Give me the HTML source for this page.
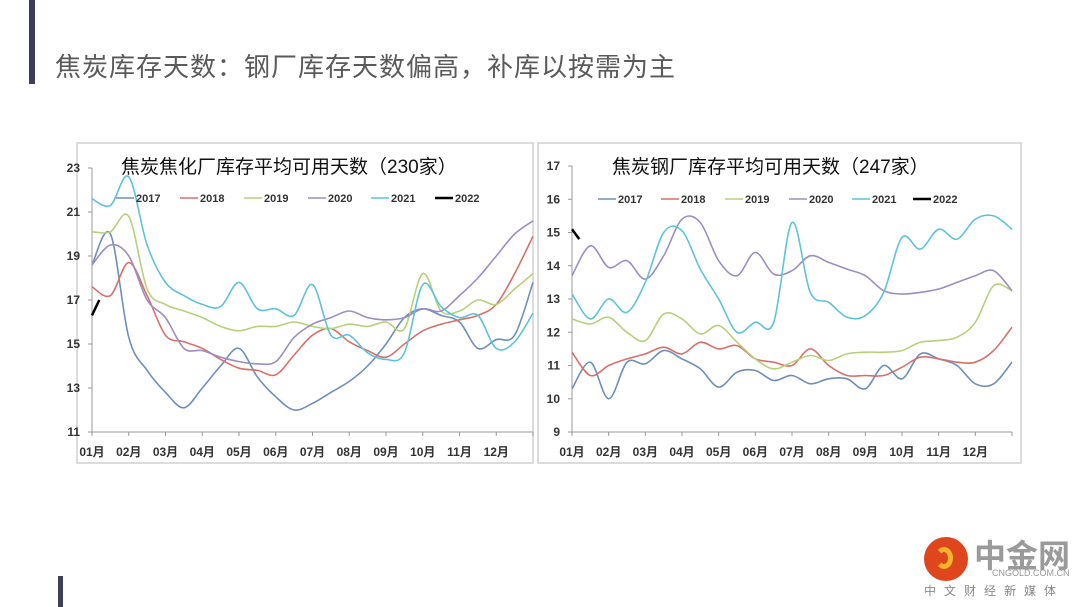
<!DOCTYPE html>
<html><head><meta charset="utf-8">
<style>
html,body{margin:0;padding:0;background:#fff;}
body{width:1080px;height:607px;position:relative;overflow:hidden;font-family:"Liberation Sans","Noto Sans CJK SC",sans-serif;}
.bar{position:absolute;background:#3c3f57;}
#title{position:absolute;left:55px;top:47px;font-size:26px;color:#5a5a5a;letter-spacing:1px;white-space:nowrap;}
svg text{font-family:"Liberation Sans","Noto Sans CJK SC",sans-serif;}
</style></head>
<body>
<div class="bar" style="left:29px;top:0;width:6px;height:84px;"></div>
<div class="bar" style="left:58px;top:576px;width:5px;height:31px;"></div>
<div id="title">焦炭库存天数：钢厂库存天数偏高，补库以按需为主</div>

<svg id="chart" width="1080" height="607" style="position:absolute;left:0;top:0"></svg>

<div style="position:absolute;left:922px;top:535px;width:150px;height:68px;">
  <div style="position:absolute;left:2px;top:2px;width:44px;height:44px;border-radius:50%;background:#e0461e;"></div>
  <div style="position:absolute;left:13px;top:12px;width:18px;height:22px;border-radius:50%;border:5px solid #f3b42a;border-left-color:transparent;box-sizing:border-box;"></div>
  <div style="position:absolute;left:52px;top:-4px;font-size:32px;font-weight:bold;color:#9a9a9a;">中金网</div>
  <div style="position:absolute;left:70px;top:33px;font-size:9px;color:#999;">CNGOLD.COM.CN</div>
  <div style="position:absolute;left:2px;top:47px;font-size:12px;color:#888;letter-spacing:8px;">中文财经新媒体</div>
</div>

<script>
const years = ['2017','2018','2019','2020','2021','2022'];
const colors = ['#6e8fba','#d9706a','#b8d07a','#9d8ec0','#5ec3d8','#000000'];
const months = ['01月','02月','03月','04月','05月','06月','07月','08月','09月','10月','11月','12月'];
const leftTicks = [11,13,15,17,19,21,23];
const rightTicks = [9,10,11,12,13,14,15,16,17];

const left2017 = [18.6,20.0,15.3,13.8,12.8,12.1,13.0,14.0,14.8,13.5,12.6,12.0,12.3,12.8,13.3,14.0,15.0,16.2,16.6,16.3,16.0,14.8,15.2,15.4,17.8];
const left2018 = [17.6,17.2,18.7,17.2,15.4,15.1,14.8,14.3,13.9,13.8,13.6,14.5,15.4,15.7,15.1,14.7,14.4,15.0,15.6,15.9,16.1,16.3,16.8,18.2,19.9];
const left2019 = [20.1,20.1,20.8,17.5,16.8,16.5,16.2,15.8,15.6,15.8,15.8,16.0,15.8,15.7,15.9,15.8,16.0,15.7,18.2,16.5,16.5,17.0,16.8,17.5,18.2];
const left2020 = [18.6,19.5,19.0,17.0,16.2,14.8,14.7,14.4,14.2,14.1,14.2,15.3,15.9,16.2,16.5,16.2,16.1,16.2,16.6,16.5,17.2,18.0,19.0,20.0,20.6];
const left2021 = [21.6,21.3,22.6,19.5,17.8,17.2,16.8,16.7,17.8,16.6,16.6,16.3,17.7,15.4,15.4,14.6,14.3,14.6,17.7,16.7,16.2,16.3,14.8,15.1,16.4];
const left2022 = [16.3,17.0];

const right2017 = [10.3,11.1,10.0,11.1,11.05,11.45,11.2,10.9,10.35,10.8,10.85,10.55,10.7,10.45,10.6,10.6,10.3,11.0,10.6,11.35,11.2,11.0,10.45,10.45,11.1];
const right2018 = [11.4,10.7,11.0,11.2,11.35,11.55,11.35,11.7,11.5,11.6,11.2,11.1,11.0,11.5,11.0,10.7,10.7,10.7,10.95,11.25,11.2,11.1,11.1,11.45,12.15];
const right2019 = [12.4,12.25,12.45,12.0,11.75,12.55,12.4,11.95,12.2,11.7,11.2,10.9,11.1,11.3,11.15,11.35,11.4,11.4,11.45,11.7,11.75,11.85,12.3,13.4,13.25];
const right2020 = [13.7,14.6,13.95,14.15,13.6,14.3,15.4,15.3,14.15,13.7,14.4,13.75,13.85,14.3,14.1,13.9,13.7,13.25,13.15,13.2,13.3,13.5,13.7,13.85,13.25];
const right2021 = [13.15,12.4,13.0,12.6,13.5,15.0,15.05,13.9,13.0,12.0,12.3,12.3,15.3,13.2,12.9,12.45,12.5,13.2,14.85,14.5,15.1,14.8,15.4,15.5,15.1];
const right2022 = [15.1,14.8];

const NS='http://www.w3.org/2000/svg';
const svg=document.getElementById('chart');
function mk(tag,attrs,parent){const e=document.createElementNS(NS,tag);for(const k in attrs)e.setAttribute(k,attrs[k]);(parent||svg).appendChild(e);return e;}

function path(pts){
  if(pts.length<3) return 'M'+pts.map(p=>p[0].toFixed(1)+','+p[1].toFixed(1)).join('L');
  let d='M'+pts[0][0].toFixed(1)+','+pts[0][1].toFixed(1);
  for(let i=0;i<pts.length-1;i++){
    const p0=pts[i-1]||pts[i],p1=pts[i],p2=pts[i+1],p3=pts[i+2]||p2;
    const c1=[p1[0]+(p2[0]-p0[0])/6,p1[1]+(p2[1]-p0[1])/6];
    const c2=[p2[0]-(p3[0]-p1[0])/6,p2[1]-(p3[1]-p1[1])/6];
    d+='C'+c1.map(v=>v.toFixed(1))+' '+c2.map(v=>v.toFixed(1))+' '+p2[0].toFixed(1)+','+p2[1].toFixed(1);
  }
  return d;
}

function drawChart(cfg){
  const g=mk('g',{});
  
  
  const box=mk('rect',{x:cfg.box[0],y:cfg.box[1],width:cfg.box[2],height:cfg.box[3],fill:'#fff',stroke:'#d0d0d0','stroke-width':1.5},g);
  
  
  const x=m=>cfg.x0+(cfg.x1-cfg.x0)*m/12;
  const y=v=>cfg.y0-(v-cfg.vmin)/(cfg.vmax-cfg.vmin)*(cfg.y0-cfg.y1);
  const ya=mk('line',{x1:cfg.x0,y1:cfg.y1,x2:cfg.x0,y2:cfg.y0,stroke:'#999','stroke-width':1},g);
  
  
  const xa=mk('line',{x1:cfg.x0,y1:cfg.y0,x2:cfg.x1,y2:cfg.y0,stroke:'#999','stroke-width':1},g);
  
  
  cfg.ticks.forEach(v=>{
    mk('line',{x1:cfg.x0-4,y1:y(v),x2:cfg.x0,y2:y(v),stroke:'#999'},g);
    const t=mk('text',{x:cfg.x0-12,y:y(v)+4,'text-anchor':'end','font-size':12,'font-weight':'bold',fill:'#333'},g);
    t.textContent=v;
    
    
  });
  for(let m=0;m<=12;m++) mk('line',{x1:x(m),y1:cfg.y0,x2:x(m),y2:cfg.y0+4,stroke:'#999'},g);
  months.forEach((lab,i)=>{
    const t=mk('text',{x:x(i),y:cfg.y0+24,'text-anchor':'middle','font-size':12,'font-weight':'bold',fill:'#333'},g);
    t.textContent=lab;
    
    
  });
  const tt=mk('text',{x:cfg.titleX,y:cfg.box[1]+30,'font-size':19,fill:'#111'},g);
  tt.textContent=cfg.title;
  
  
  cfg.series.forEach((arr,si)=>{
    const pts=arr.map((v,i)=>[x(si===5?i*0.2:i*0.5),y(v)]);
    const p=mk('path',{d:path(pts),fill:'none',stroke:colors[si],'stroke-width':si===5?2.5:1.6,'stroke-linejoin':'round'},g);
    
    
  });
  years.forEach((yr,i)=>{
    const lx=cfg.legX[i];
    const l=mk('line',{x1:lx,y1:cfg.legY,x2:lx+18,y2:cfg.legY,stroke:colors[i],'stroke-width':i===5?2.5:1.6},g);
    
    
    const t=mk('text',{x:lx+20,y:cfg.legY+4,'font-size':11,'font-weight':'bold',fill:'#333'},g);
    t.textContent=yr;
    
    
  });
}

drawChart({name:'coking-plant-chart',box:[77,143,456,320],x0:92,x1:533,y0:432,y1:168,vmin:11,vmax:23,ticks:leftTicks,
  title:'焦炭焦化厂库存平均可用天数（230家）',titleX:121,
  series:[left2017,left2018,left2019,left2020,left2021,left2022],
  legY:198,legX:[116,180,244,308,371,435]});
drawChart({name:'steel-mill-chart',box:[538,143,483,320],x0:572,x1:1012,y0:432,y1:166,vmin:9,vmax:17,ticks:rightTicks,
  title:'焦炭钢厂库存平均可用天数（247家）',titleX:612,
  series:[right2017,right2018,right2019,right2020,right2021,right2022],
  legY:199,legX:[598,661,725,789,852,913]});
</script>
</body></html>
